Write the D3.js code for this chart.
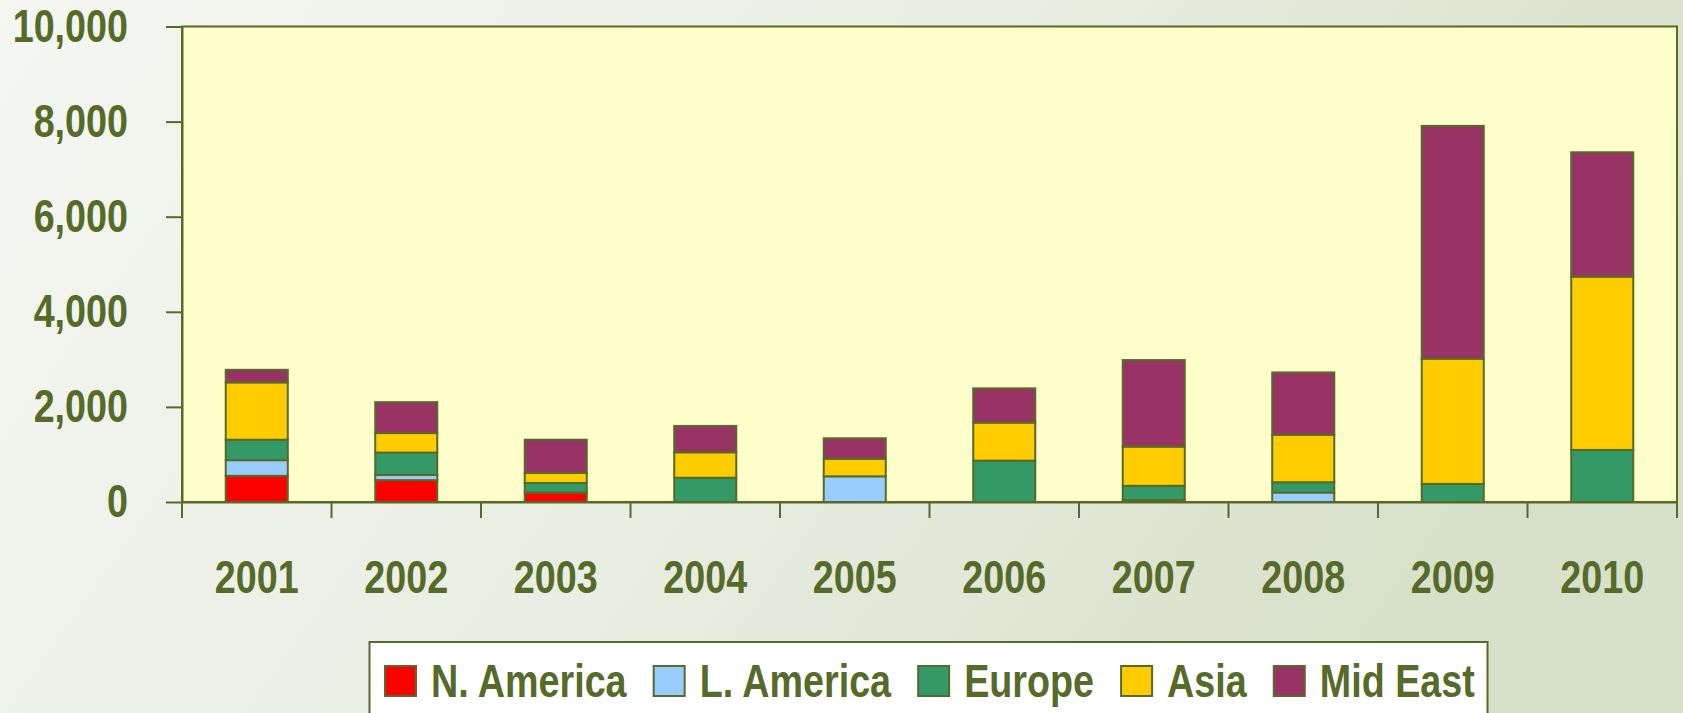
<!DOCTYPE html>
<html>
<head>
<meta charset="utf-8">
<script src="https://cdn.jsdelivr.net/npm/d3@7"></script>
<style>
  html, body { margin: 0; padding: 0; }
  body { width: 1683px; height: 713px; overflow: hidden; }
  svg { display: block; font-family: "Liberation Sans", Arial, sans-serif; }
</style>
</head>
<body>
<script>
// data (units, stacked bottom to top)
const years = ["2001", "2002", "2003", "2004", "2005", "2006", "2007", "2008", "2009", "2010"];
const seriesNames = ["N. America", "L. America", "Europe", "Asia", "Mid East"];
const nAmerica = [550, 460, 200, 0, 0, 0, 40, 0, 0, 0];
const lAmerica = [330, 110, 0, 0, 540, 0, 0, 200, 0, 0];
const europe   = [430, 470, 200, 510, 0, 870, 300, 215, 380, 1095];
const asia     = [1205, 410, 210, 535, 370, 800, 825, 1000, 2635, 3645];
const midEast  = [265, 650, 700, 555, 430, 720, 1820, 1310, 4895, 2615];
const yTicks = [0, 2000, 4000, 6000, 8000, 10000];

const colors = ["#ff0000", "#99ccff", "#339966", "#ffcc00", "#993366"];
const ink = "#566a29";
const narrow = 0.82; // no Arial Narrow here, squeeze Liberation Sans instead

const W = 1683, H = 713;
const plotLeft = 182, plotRight = 1677, plotTop = 26.5, plotBottom = 502;

const rows = years.map((yr, i) => ({
  year: yr,
  "N. America": nAmerica[i],
  "L. America": lAmerica[i],
  "Europe": europe[i],
  "Asia": asia[i],
  "Mid East": midEast[i]
}));

function squeeze(sel) {
  sel.each(function() {
    const t = d3.select(this);
    const tx = +t.attr("x") || 0, ty = +t.attr("y") || 0;
    t.attr("x", 0).attr("y", 0)
      .attr("transform", `translate(${tx},${ty}) scale(${narrow},1)`);
  });
}

const svg = d3.select("body").append("svg")
  .attr("width", W)
  .attr("height", H);

// page background
const defs = svg.append("defs");
const grad = defs.append("linearGradient").attr("id", "bg")
  .attr("x1", 0).attr("y1", 0).attr("x2", 1).attr("y2", 0.3);
grad.append("stop").attr("offset", "0%").attr("stop-color", "#f4f7f2");
grad.append("stop").attr("offset", "55%").attr("stop-color", "#e9eee2");
grad.append("stop").attr("offset", "100%").attr("stop-color", "#d7e0c9");
svg.append("rect").attr("width", W).attr("height", H).attr("fill", "url(#bg)");

const x = d3.scaleBand().domain(years).range([plotLeft, plotRight]).padding(0);
const y = d3.scaleLinear().domain([0, 10000]).range([plotBottom, plotTop]);
const barW = x.bandwidth() * 0.415;

// plot area
svg.append("rect")
  .attr("x", plotLeft).attr("y", plotTop)
  .attr("width", plotRight - plotLeft).attr("height", plotBottom - plotTop)
  .attr("fill", "#ffffcc")
  .attr("stroke", ink).attr("stroke-width", 2);

// stacked bars
const stack = d3.stack().keys(seriesNames)(rows);
const layer = svg.append("g").selectAll("g")
  .data(stack)
  .join("g")
  .attr("fill", (d, i) => colors[i]);

layer.selectAll("rect")
  .data(d => d.filter(s => s[1] - s[0] > 0))
  .join("rect")
  .attr("x", d => x(d.data.year) + (x.bandwidth() - barW) / 2)
  .attr("y", d => y(d[1]))
  .attr("width", barW)
  .attr("height", d => y(d[0]) - y(d[1]))
  .attr("stroke", ink)
  .attr("stroke-width", 2);

// y axis
const yAxis = svg.append("g")
  .attr("transform", `translate(${plotLeft},0)`)
  .call(d3.axisLeft(y).tickValues(yTicks).tickFormat(d3.format(",")).tickSize(16).tickPadding(38).tickSizeOuter(0));
yAxis.select(".domain").attr("stroke", ink).attr("stroke-width", 2);
yAxis.selectAll(".tick line").attr("stroke", ink).attr("stroke-width", 2);
yAxis.selectAll("text")
  .attr("fill", ink)
  .style("font-size", "46px")
  .style("font-weight", "bold")
  .call(squeeze);

// x axis labels
const xAxis = svg.append("g")
  .attr("transform", `translate(0,${plotBottom})`)
  .call(d3.axisBottom(x).tickSize(0).tickPadding(58).tickSizeOuter(0));
xAxis.select(".domain").attr("stroke", ink).attr("stroke-width", 2);
xAxis.selectAll("text")
  .attr("fill", ink)
  .style("font-size", "46px")
  .style("font-weight", "bold")
  .call(squeeze);

// category boundary ticks
const edges = years.map(d => x(d)).concat([x.range()[1]]);
svg.append("g").selectAll("line")
  .data(edges)
  .join("line")
  .attr("x1", d => d).attr("x2", d => d)
  .attr("y1", plotBottom).attr("y2", plotBottom + 16)
  .attr("stroke", ink).attr("stroke-width", 2);

// legend
const legend = svg.append("g");
legend.append("rect")
  .attr("x", 369.5).attr("y", 642)
  .attr("width", 1487.5 - 369.5).attr("height", 90)
  .attr("fill", "#ffffff")
  .attr("stroke", ink).attr("stroke-width", 2);

let lx = 385;
seriesNames.forEach((name, i) => {
  legend.append("rect")
    .attr("x", lx).attr("y", 666)
    .attr("width", 31).attr("height", 30)
    .attr("fill", colors[i])
    .attr("stroke", ink).attr("stroke-width", 2);
  const t = legend.append("text")
    .attr("x", lx + 46).attr("y", 697)
    .attr("fill", ink)
    .style("font-size", "46px")
    .style("font-weight", "bold")
    .text(name);
  const w = t.node().getComputedTextLength() * narrow;
  t.call(squeeze);
  lx += 46 + w + 27;
});
</script>
</body>
</html>
